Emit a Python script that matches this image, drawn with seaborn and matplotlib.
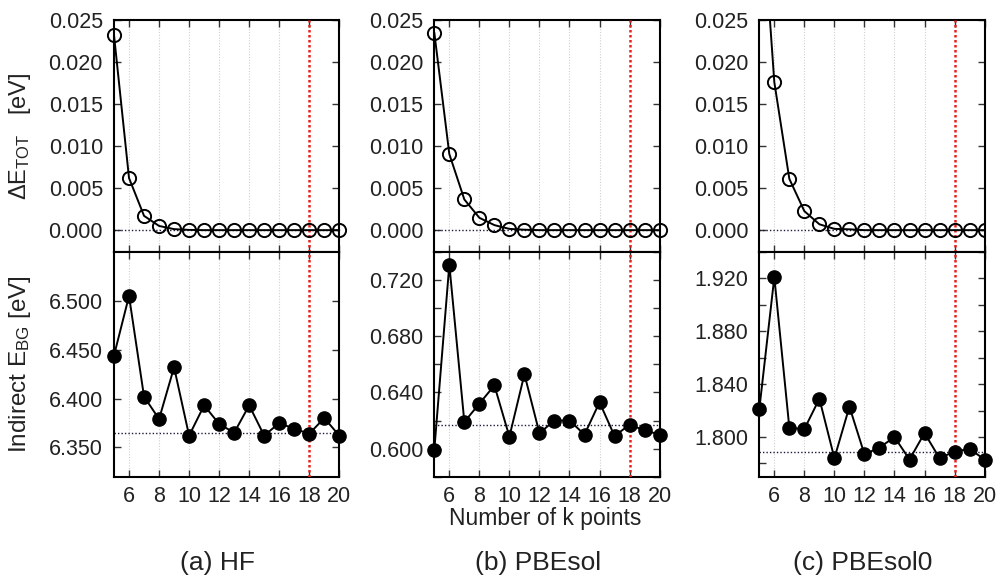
import matplotlib
matplotlib.use("Agg")
import matplotlib.pyplot as plt
from matplotlib.ticker import MultipleLocator, FormatStrFormatter
import seaborn as sns

# k-point convergence data for three functionals
kpoints = list(range(5, 21))

hf_dE = [0.0232, 0.0062, 0.0017, 0.0005, 0.00012, 0.00003, 0.0, 0.0,
         0.0, 0.0, 0.0, 0.0, 0.0, 0.0, 0.0, 0.0]
hf_gap = [6.444, 6.505, 6.402, 6.379, 6.432, 6.362, 6.393, 6.374,
          6.365, 6.393, 6.362, 6.375, 6.369, 6.364, 6.380, 6.362]
hf_ref = 6.365

pbesol_dE = [0.0235, 0.00905, 0.00365, 0.00147, 0.0006, 0.00015, 0.00005, 0.0,
             0.0, 0.0, 0.0, 0.0, 0.0, 0.0, 0.0, 0.0]
pbesol_gap = [0.599, 0.731, 0.619, 0.632, 0.645, 0.6085, 0.653, 0.611,
              0.620, 0.620, 0.610, 0.633, 0.609, 0.617, 0.613, 0.610]
pbesol_ref = 0.617

pbesol0_dE = [0.043, 0.0176, 0.0061, 0.00226, 0.0007, 0.00015, 0.0001, 0.0,
              0.0, 0.0, 0.0, 0.0, 0.0, 0.0, 0.0, 0.0]
pbesol0_gap = [1.821, 1.921, 1.807, 1.806, 1.829, 1.784, 1.823, 1.787,
               1.792, 1.800, 1.783, 1.803, 1.784, 1.789, 1.791, 1.783]
pbesol0_ref = 1.789

chosen_k = 18
captions = ["(a) HF", "(b) PBEsol", "(c) PBEsol0"]
x_ticks = [6, 8, 10, 12, 14, 16, 18, 20]

sns.set_style("ticks")
plt.rcParams["font.family"] = ["Liberation Sans", "DejaVu Sans"]
plt.rcParams["mathtext.fontset"] = "custom"
plt.rcParams["mathtext.rm"] = "Liberation Sans"
plt.rcParams["mathtext.it"] = "Liberation Sans:italic"
plt.rcParams["mathtext.default"] = "regular"

W, H = 1002, 579
fig = plt.figure(figsize=(W / 100, H / 100), dpi=100)
fig.patch.set_facecolor("white")

lefts = [114, 434.3, 759.3]
width_px = 225.3
top_px, mid_px, bot_px = 20, 252, 476.7

panels = [
    (hf_dE, hf_gap, hf_ref, (6.32, 6.55), 0.05, None),
    (pbesol_dE, pbesol_gap, pbesol_ref, (0.58, 0.74), 0.04, 0.02),
    (pbesol0_dE, pbesol0_gap, pbesol0_ref, (1.77, 1.94), 0.04, 0.02),
]

TICK_FS = 15.5
TEXT_COLOR = "#222222"


def style_axes(ax):
    for s in ax.spines.values():
        s.set_linewidth(1.5)
        s.set_color("black")
        s.set_visible(True)
    ax.tick_params(which="both", direction="in", top=True, right=True,
                   width=1.0, length=5, colors="#333333",
                   labelcolor=TEXT_COLOR, labelsize=TICK_FS)
    ax.tick_params(axis="y", pad=8)
    ax.tick_params(axis="x", pad=7)
    ax.set_xlim(5, 20)
    ax.set_xticks(x_ticks)
    ax.xaxis.set_minor_locator(plt.NullLocator())
    for xv in x_ticks:
        if xv != chosen_k:
            ax.axvline(xv, color="#cfcfcf", lw=0.8, ls=(0, (1, 1.5)), zorder=0)
    ax.axvline(chosen_k, color="#e8211d", lw=1.8, ls=(0, (1, 1)), zorder=4)
    ax.set_facecolor("white")
    ax.set_xlabel("")
    ax.set_ylabel("")


for i, (dE, gap, ref, ylim, major, minor) in enumerate(panels):
    left = lefts[i] / W
    w = width_px / W
    ax_top = fig.add_axes([left, 1 - mid_px / H, w, (mid_px - top_px) / H])
    ax_bot = fig.add_axes([left, 1 - bot_px / H, w, (bot_px - mid_px) / H])

    # Total energy difference (open circles)
    ax_top.axhline(0.0, color="#1a1a3a", lw=1.0, ls=(0, (1, 1.5)), zorder=1)
    sns.lineplot(x=kpoints, y=dE, ax=ax_top, color="black", linewidth=1.4,
                 marker="o", markersize=9.5, markerfacecolor="none",
                 markeredgecolor="black", markeredgewidth=1.4,
                 clip_on=(i == 2), zorder=5)
    style_axes(ax_top)
    ax_top.set_yticks([0.0, 0.005, 0.010, 0.015, 0.020, 0.025])
    ax_top.yaxis.set_major_formatter(FormatStrFormatter("%.3f"))
    ax_top.set_ylim(-0.0026, 0.025)
    ax_top.tick_params(axis="x", labelbottom=False)

    # Indirect band gap (filled circles)
    ax_bot.axhline(ref, color="#1a1a3a", lw=1.0, ls=(0, (1, 1.5)), zorder=1)
    sns.lineplot(x=kpoints, y=gap, ax=ax_bot, color="black", linewidth=1.4,
                 marker="o", markersize=9.5, markerfacecolor="black",
                 markeredgecolor="black", markeredgewidth=1.0,
                 clip_on=False, zorder=5)
    style_axes(ax_bot)
    ax_bot.set_ylim(*ylim)
    ax_bot.yaxis.set_major_locator(MultipleLocator(major))
    if minor:
        ax_bot.yaxis.set_minor_locator(MultipleLocator(minor))
    ax_bot.yaxis.set_major_formatter(FormatStrFormatter("%.3f"))
    # leave out the label that would sit on the shared border
    ticks = [t for t in ax_bot.get_yticks() if ylim[0] <= t < ylim[1] - 1e-9]
    ax_bot.set_yticks(ticks)
    ax_bot.set_ylim(*ylim)

    if i == 0:
        ax_top.set_ylabel("ΔE$_{TOT}$   [eV]", fontsize=17, color=TEXT_COLOR)
        ax_top.yaxis.set_label_coords(-0.36, 0.5)
        ax_bot.set_ylabel("Indirect E$_{BG}$ [eV]", fontsize=17.5, color=TEXT_COLOR)
        ax_bot.yaxis.set_label_coords(-0.36, 0.5)

    cx = (lefts[i] + width_px / 2) / W
    fig.text(cx - 0.009, 1 - 563 / H, captions[i], ha="center", va="center",
             fontsize=19, color=TEXT_COLOR)

fig.text(545 / W, 1 - 519 / H, "Number of k points", ha="center", va="center",
         fontsize=16.5, color=TEXT_COLOR)

fig.savefig("out.png", dpi=100, facecolor="white")
